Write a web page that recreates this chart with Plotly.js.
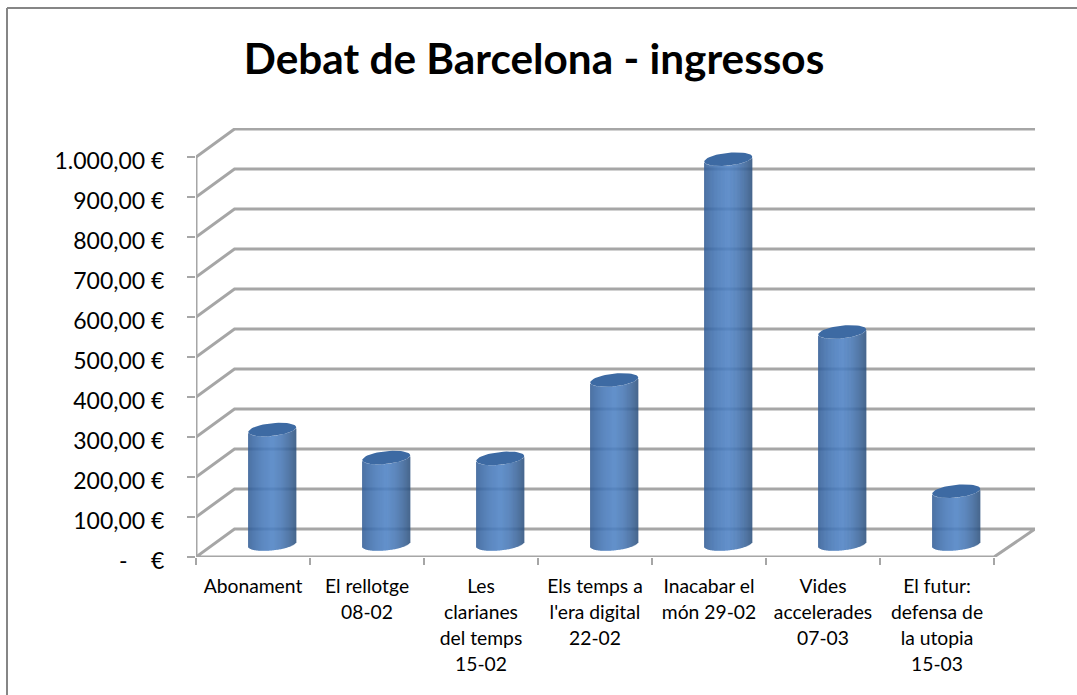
<!DOCTYPE html>
<html>
<head>
<meta charset="utf-8">
<script src="https://cdn.plot.ly/plotly-3.0.1.min.js"></script>
<style>html,body{margin:0;padding:0;background:#fff;overflow:hidden}#chart{width:1077px;height:695px}</style>
</head>
<body>
<div id="chart"></div>
<script>
// ---- data ----
var categories = [
  ["Abonament"],
  ["El rellotge","08-02"],
  ["Les","clarianes","del temps","15-02"],
  ["Els temps a","l'era digital","22-02"],
  ["Inacabar el","món 29-02"],
  ["Vides","accelerades","07-03"],
  ["El futur:","defensa de","la utopia","15-03"]
];
var values = [286, 216, 214, 410, 962, 530, 132];
var yTicks = [0,100,200,300,400,500,600,700,800,900,1000];
var yTickText = ["-\u00A0\u00A0\u00A0\u00A0€","100,00 €","200,00 €","300,00 €","400,00 €","500,00 €","600,00 €","700,00 €","800,00 €","900,00 €","1.000,00 €"];

// ---- plot geometry (px) ----
var W = 1077, H = 695;
var L = 196, R = 1035, T = 128, B = 557;
var pxPerCat = 114, pxPerEuro = 0.4;
var nCat = categories.length;
var depthX = 38.5 / pxPerCat, depthY = 28 / pxPerEuro;   // floor depth in axis units
var xMax = (R - L) / pxPerCat, yMax = (B - T) / pxPerEuro;
var gridColor = "#a6a6a6";

// ---- cylinder geometry in axis units ----
var halfW = 24 / pxPerCat;
var minor = 6.4 / pxPerEuro;
var skew = 2.4 / pxPerEuro;
var floorY = 13 / pxPerEuro;
var centers = categories.map(function (c, i) { return i + 0.5 + depthX / 2; });

// shading across the cylinder, left edge to right edge
var stops = [
  [0.00, [52, 94, 150]],
  [0.10, [58, 104, 164]],
  [0.30, [70, 120, 184]],
  [0.50, [78, 130, 196]],
  [0.68, [72, 120, 182]],
  [0.85, [60, 102, 156]],
  [1.00, [46, 82, 126]]
];
function shade(t) {
  for (var i = 1; i < stops.length; i++) {
    if (t <= stops[i][0]) {
      var a = stops[i-1], b = stops[i], f = (t - a[0]) / (b[0] - a[0]);
      return "rgb(" + [0,1,2].map(function (k) { return Math.round(a[1][k] + (b[1][k] - a[1][k]) * f); }).join(",") + ")";
    }
  }
  return "rgb(46,82,126)";
}

// one bar trace per vertical strip of the cylinders
var nStrips = 48, traces = [];
for (var s = 0; s < nStrips; s++) {
  var t = (s + 0.5) / nStrips, u = 2 * t - 1;
  var arc = Math.sqrt(1 - u * u);
  var lower = floorY + skew * u - minor * arc;
  traces.push({
    type: "bar",
    x: centers.map(function (c) { return c + u * halfW; }),
    base: values.map(function () { return lower; }),
    y: values.map(function (v) { return v + floorY + skew * u - minor * arc - lower; }),
    width: 2 * halfW / nStrips * 1.15,
    marker: { color: shade(t), line: { width: 0 } },
    showlegend: false,
    hoverinfo: "skip"
  });
}

// elliptical tops
var capX = [], capY = [];
values.forEach(function (v, i) {
  for (var a = 0; a <= 48; a++) {
    var th = a / 48 * 2 * Math.PI;
    capX.push(centers[i] + halfW * Math.cos(th));
    capY.push(v + floorY + skew * Math.cos(th) + minor * Math.sin(th));
  }
  capX.push(null); capY.push(null);
});
traces.push({
  type: "scatter", mode: "lines", x: capX, y: capY, fill: "toself",
  fillcolor: "#3d6aa3", line: { width: 0, color: "#3d6aa3" },
  showlegend: false, hoverinfo: "skip"
});

// walls and floor
var shapes = [];
var lineStyle = { color: gridColor, width: 3 };
yTicks.forEach(function (v) {
  if (v === 0) return;
  shapes.push({ type: "path", xref: "x", yref: "y", layer: "below", line: lineStyle,
    path: "M0," + v + " L" + depthX + "," + (v + depthY) + " L" + xMax + "," + (v + depthY) });
});
shapes.push({ type: "path", xref: "x", yref: "y", layer: "below", line: lineStyle,
  path: "M0,0 L" + nCat + ",0 L" + xMax + "," + depthY + " L" + depthX + "," + depthY + " Z" });
shapes.push({ type: "line", xref: "x", yref: "y", layer: "below", line: lineStyle,
  x0: 0, x1: 0, y0: 0, y1: yTicks[yTicks.length - 1] });
// chart frame (top and left edges)
var plotW = R - L, plotH = B - T;
var fx0 = (7 - L) / plotW, fx1 = (W + 5 - L) / plotW, fy0 = 1 - (8 - T) / plotH, fy1 = 1 - (H + 5 - T) / plotH;
var frame = { color: "#868686", width: 2 };
shapes.push({ type: "line", xref: "paper", yref: "paper", layer: "above", line: frame, x0: fx0, x1: fx1, y0: fy0, y1: fy0 });
shapes.push({ type: "line", xref: "paper", yref: "paper", layer: "above", line: frame, x0: fx0, x1: fx0, y0: fy0, y1: fy1 });

var FONT = "Lato, Carlito, Calibri, sans-serif";
var layout = {
  width: W, height: H,
  margin: { l: L, r: W - R, t: T, b: H - B, pad: 0 },
  paper_bgcolor: "#fff", plot_bgcolor: "rgba(0,0,0,0)",
  showlegend: false,
  barmode: "overlay",
  title: { text: "<b>Debat de Barcelona - ingressos</b>",
    font: { family: FONT, size: 42.3, color: "#000" },
    x: 534 / W, xanchor: "center", y: 1 - 59 / H, yanchor: "middle" },
  xaxis: {
    type: "linear", range: [0, xMax], showgrid: false, zeroline: false, showline: false,
    tickmode: "array",
    tickvals: categories.map(function (c, i) { return i + 0.5; }),
    ticktext: categories.map(function (c) {
      return c.map(function (l) { return '<span style="font-size:19.3px">' + l + '</span>'; }).join("<br>");
    }),
    ticks: "", tickfont: { family: FONT, size: 20, color: "#000" },
    ticklabelstandoff: 15,
    minor: { tickmode: "array", tickvals: categories.map(function (c, i) { return i; }).concat([nCat]),
      ticks: "outside", ticklen: 7, tickwidth: 1.5, tickcolor: gridColor, showgrid: false }
  },
  yaxis: {
    range: [0, yMax], showgrid: false, zeroline: false, showline: false,
    tickmode: "array", tickvals: yTicks, ticktext: yTickText,
    ticks: "outside", ticklen: 8, tickwidth: 2, tickcolor: gridColor,
    tickfont: { family: FONT, size: 23, color: "#000" },
    ticklabelstandoff: 18, ticklabelshift: 4
  },
  shapes: shapes
};
Plotly.newPlot("chart", traces, layout, { displayModeBar: false, staticPlot: true });
</script>
</body>
</html>
